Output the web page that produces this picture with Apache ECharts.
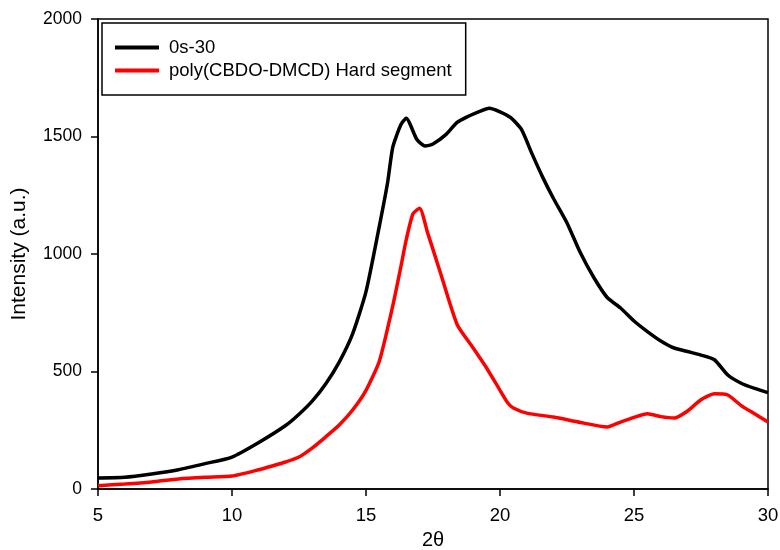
<!DOCTYPE html>
<html>
<head>
<meta charset="utf-8">
<script src="https://cdn.jsdelivr.net/npm/echarts@6/dist/echarts.min.js"></script>
<style>html,body{margin:0;padding:0;background:#fff}#c{width:780px;height:550px}</style>
</head>
<body>
<div id="c"></div>
<script>
const seriesNames = ['0s-30', 'poly(CBDO-DMCD) Hard segment'];
const blackX = [5,6,7,8,9,10,11,12,12.5,13,13.5,14,14.5,15,15.5,15.8,16,16.3,16.5,16.9,17.2,17.5,18,18.4,18.8,19.2,19.6,20,20.4,20.8,21.2,21.6,22,22.5,23,23.5,24,24.5,25,25.5,26,26.5,27,27.5,28,28.5,29,29.5,30];
const blackY = [47,50,64,82,108,136,198,270,318,375,448,540,660,840,1120,1300,1455,1550,1578,1487,1460,1468,1510,1560,1585,1605,1620,1605,1580,1530,1425,1325,1235,1132,1005,900,815,770,715,670,630,600,585,570,550,485,450,428,410];
const redX = [5,6,7,8,9,10,11,11.5,12,12.5,13,13.5,14,14.5,15,15.5,16,16.3,16.5,16.75,17,17.3,17.75,18.4,19,19.5,20,20.3,20.5,21,22,23,24,24.5,25,25.5,26,26.5,27,27.5,28,28.5,29,29.5,30];
const redY = [14,21,30,43,50,55,82,98,115,136,175,222,272,336,420,545,780,945,1060,1170,1195,1090,930,700,600,515,420,365,345,323,306,283,264,285,305,320,308,302,332,380,405,400,355,320,285];
const xTicks = [5,10,15,20,25,30];
const yTicks = [0,500,1000,1500,2000];

const chart = echarts.init(document.getElementById('c'));
const font = 'Liberation Sans, Arial, sans-serif';
chart.setOption({
  animation: false,
  backgroundColor: '#fff',
  grid: {left: 98, right: 12, top: 19, bottom: 61, show: true, borderColor: '#000', borderWidth: 1.5,
    containLabel: false, outerBoundsMode: 'none'},
  legend: {
    left: 102, top: 23, orient: 'vertical',
    borderColor: '#000', borderWidth: 1.5,
    padding: [15, 14, 15, 13], itemGap: 4,
    itemWidth: 44, itemHeight: 4, icon: 'rect',
    textStyle: {fontFamily: font, fontSize: 18.5, color: '#000', padding: [0, 0, 0, 5]},
    data: seriesNames
  },
  xAxis: {
    type: 'value', min: xTicks[0], max: xTicks[xTicks.length - 1], interval: 5,
    name: '2θ', nameLocation: 'middle', nameGap: 41,
    nameTextStyle: {fontFamily: font, fontSize: 20, color: '#000'},
    axisLine: {lineStyle: {color: '#000', width: 1.5}},
    axisTick: {inside: false, length: 7, lineStyle: {color: '#000', width: 1.5}},
    axisLabel: {fontFamily: font, fontSize: 18.5, color: '#000', margin: 17},
    splitLine: {show: false}
  },
  yAxis: {
    type: 'value', min: yTicks[0], max: yTicks[yTicks.length - 1], interval: 500,
    name: 'Intensity (a.u.)', nameLocation: 'middle', nameGap: 68,
    nameTextStyle: {fontFamily: font, fontSize: 21, color: '#000'},
    axisLine: {show: true, lineStyle: {color: '#000', width: 1.5}},
    axisTick: {show: true, inside: false, length: 7, lineStyle: {color: '#000', width: 1.5}},
    axisLabel: {fontFamily: font, fontSize: 17.5, color: '#000', margin: 16,
      formatter: v => String(v)},
    splitLine: {show: false}
  },
  series: [
    {name: seriesNames[0], type: 'line', showSymbol: false, smooth: 0.2,
     lineStyle: {color: '#000', width: 3.5}, itemStyle: {color: '#000'},
     data: blackX.map((x, i) => [x, blackY[i]])},
    {name: seriesNames[1], type: 'line', showSymbol: false, smooth: 0.2,
     lineStyle: {color: '#ff0000', width: 3.5}, itemStyle: {color: '#ff0000'},
     data: redX.map((x, i) => [x, redY[i]])}
  ]
});
</script>
</body>
</html>
